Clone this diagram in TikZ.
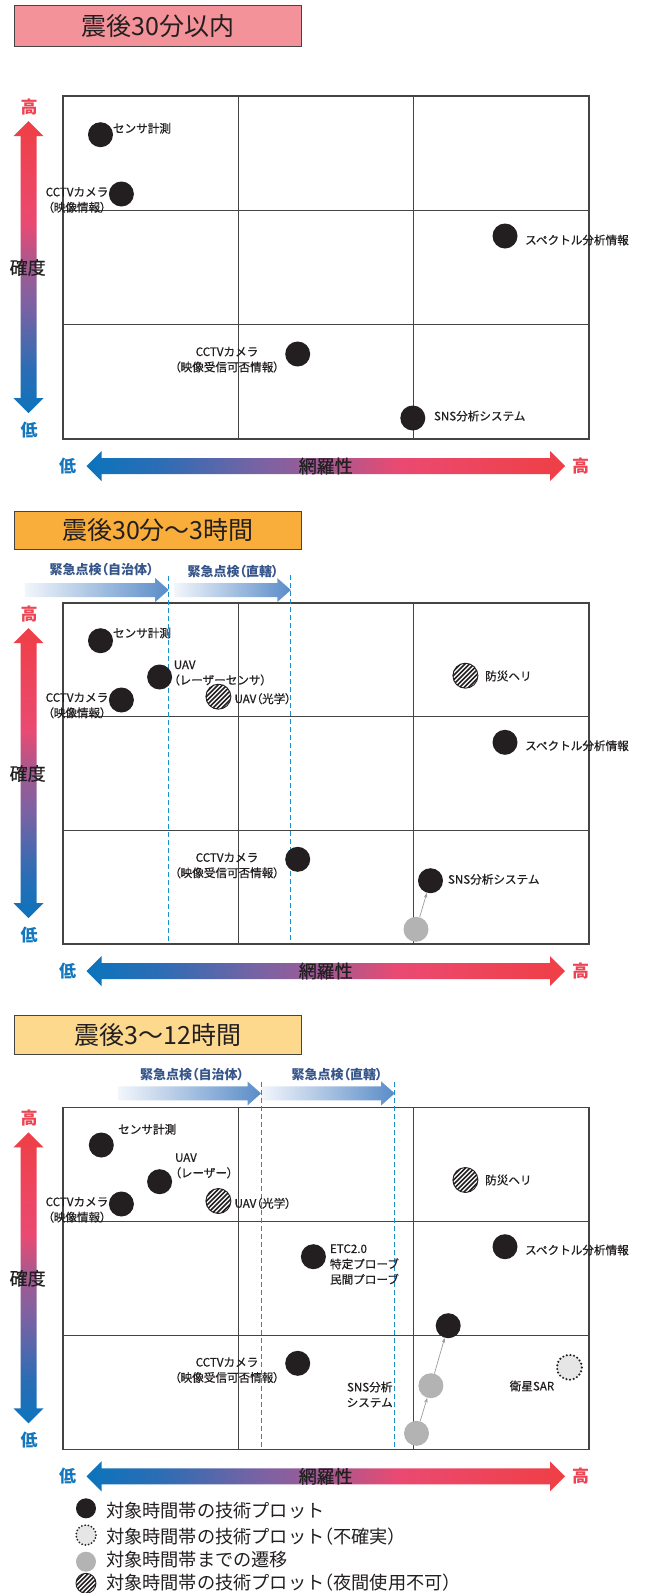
\documentclass[tikz,border=0pt]{standalone}
\usepackage{fontspec}
\setmainfont{Noto Sans CJK JP}
\newfontfamily\medfont{Noto Sans CJK JP}[FakeBold=0.6]
\usetikzlibrary{arrows.meta,shapes.geometric}
\newcommand\LP{{\addfontfeatures{RawFeature=+palt}（}}
\newcommand\RP{{\addfontfeatures{RawFeature=+palt}）}}
\definecolor{txt}{HTML}{231F20}
\definecolor{gridc}{HTML}{444444}
\definecolor{cb}{HTML}{0B74BC}
\definecolor{cbb}{HTML}{2B6DB5}
\definecolor{cpu}{HTML}{7C62A3}
\definecolor{cmv}{HTML}{A25A92}
\definecolor{cpk}{HTML}{EA4A72}
\definecolor{cr}{HTML}{EF3F45}
\definecolor{hiC}{HTML}{EC4452}
\definecolor{loC}{HTML}{1477BD}
\definecolor{tA}{HTML}{F4929A}
\definecolor{tB}{HTML}{F9AE3B}
\definecolor{tC}{HTML}{FDD98E}
\definecolor{blA}{HTML}{F2F6FB}
\definecolor{blB}{HTML}{5A8CC8}
\definecolor{navy}{HTML}{36558A}
\definecolor{dashc}{HTML}{1D8ECE}
\definecolor{grayd}{HTML}{B3B3B4}
\definecolor{uncert}{HTML}{E6E6E7}
\definecolor{connc}{HTML}{9C9C9C}
\pgfdeclarehorizontalshading{hgrad}{100bp}{color(0bp)=(cb); color(25bp)=(cb); color(32.5bp)=(cbb); color(43.5bp)=(cpu); color(50bp)=(cmv); color(57.5bp)=(cpk); color(75bp)=(cr); color(100bp)=(cr)}
\pgfdeclareverticalshading{vgrad}{100bp}{color(0bp)=(cb); color(25bp)=(cb); color(32.5bp)=(cbb); color(43.5bp)=(cpu); color(50bp)=(cmv); color(57.5bp)=(cpk); color(75bp)=(cr); color(100bp)=(cr)}
\newcommand\panelframe[2]{%
  \pgfmathsetmacro\PTop{#1}\pgfmathsetmacro\PBot{#2}%
  \pgfmathsetmacro\PHa{#1+(#2-#1)/3}\pgfmathsetmacro\PHb{#1+2*(#2-#1)/3}%
  \pgfmathsetmacro\AT{#1+25}\pgfmathsetmacro\AB{#2-26}%
  \pgfmathsetmacro\AM{(#1+#2)/2}\pgfmathsetmacro\HY{#2+27}%
  \draw[gridline] (63,\PTop) rectangle (589,\PBot);
  \draw[gridline] (238.6,\PTop) -- (238.6,\PBot) (413.2,\PTop) -- (413.2,\PBot)
    (63,\PHa) -- (589,\PHa) (63,\PHb) -- (589,\PHb);
  \path[shading=vgrad] (28.5,\AT) -- (43.5,\AT+15) -- (36.5,\AT+15) -- (36.5,\AB-15)
    -- (43.5,\AB-15) -- (28.5,\AB) -- (13.5,\AB-15) -- (20.5,\AB-15) -- (20.5,\AT+15)
    -- (13.5,\AT+15) -- cycle;
  \path[shading=hgrad] (86.5,\HY) -- (101.5,\HY-15) -- (101.5,\HY-8) -- (550,\HY-8)
    -- (550,\HY-15) -- (565,\HY) -- (550,\HY+15) -- (550,\HY+8) -- (101.5,\HY+8)
    -- (101.5,\HY+15) -- cycle;
  \node[axlbl,text=hiC] at (29,#1+11) {高};
  \node[axlbl,text=loC] at (29,#2-9) {低};
  \node[axname] at (27.7,\AM) {確度};
  \node[axlbl,text=loC] at (67.5,\HY) {低};
  \node[axlbl,text=hiC] at (580.5,\HY) {高};
  \node[axname] at (325.7,\HY) {網羅性};
}
\newcommand\blockarrow[3]{%
  \path[left color=blA, right color=blB] (#1,#3-7) -- (#2-13.5,#3-7) -- (#2-13.5,#3-12)
    -- (#2,#3) -- (#2-13.5,#3+12) -- (#2-13.5,#3+7) -- (#1,#3+7) -- cycle;
}
\begin{document}
\begin{tikzpicture}[x=1pt,y=-1pt,
  gridline/.style={draw=gridc,line width=1.1pt},
  axlbl/.style={font=\fontsize{17}{17}\selectfont\bfseries,inner sep=0pt},
  axname/.style={font=\fontsize{18}{18}\selectfont\medfont,text=txt,inner sep=0pt},
  titlebox/.style={draw=gridc,line width=0.9pt,minimum width=286.8pt,
    font=\fontsize{25}{25}\selectfont,text=txt,inner sep=0pt},
  lbl/.style={font=\fontsize{11.6}{15.4}\selectfont\medfont,text=txt,inner sep=0pt},
  klbl/.style={font=\fontsize{13}{13}\selectfont\bfseries,text=navy,inner sep=0pt},
  lgd/.style={font=\fontsize{18.2}{18.2}\selectfont,text=txt,inner sep=0pt,anchor=west},
  dashln/.style={draw=dashc,line width=1.3pt,dash pattern=on 5pt off 3pt},
  bdot/.style={circle,inner sep=0pt,minimum size=25pt,fill=txt},
  gdot/.style={circle,inner sep=0pt,minimum size=25pt,fill=grayd},
  udot/.style={circle,inner sep=0pt,minimum size=25pt,fill=uncert,draw=txt,
    line width=2.3pt,dash pattern=on 0pt off 3.7pt,line cap=round},
  hdot/.style={circle,inner sep=0pt,minimum size=25pt,fill=white,draw=txt,line width=0.9pt,
    path picture={\begin{scope}[shift={(path picture bounding box.center)}]
      \foreach \i in {-30,-25.5,...,30}{\draw[txt,line width=1.6pt] (\i-20,20) -- (\i+20,-20);}
      \end{scope}}},
  small/.style={minimum size=20pt},
  conn/.style={draw=connc,line width=0.7pt,-{Stealth[length=5pt,width=3.5pt]}}]
\clip (0,0) rectangle (646,1593);
\fill[white] (0,0) rectangle (646,1593);

% ---------- Panel 1
\node[titlebox,fill=tA,minimum height=41pt] (ta) at (158,26.2) {震後30分以内};
\panelframe{96}{439}
\node[bdot] (a1) at (100.5,134.7) {};
\node[lbl,anchor=west] (a1l) at (112.8,128.3) {センサ計測};
\node[bdot] (a2) at (121.4,194) {};
\node[lbl,align=center] (a2l) at (77,200) {CCTVカメラ\\\LP 映像情報\RP};
\node[bdot] (a3) at (505,236) {};
\node[lbl,anchor=west] (a3l) at (525,240) {スペクトル分析情報};
\node[bdot] (a4) at (297.7,354) {};
\node[lbl,align=center] (a4l) at (227,359.7) {CCTVカメラ\\\LP 映像受信可否情報\RP};
\node[bdot] (a5) at (412.8,418) {};
\node[lbl,anchor=west] (a5l) at (433.8,416) {SNS分析システム};

% ---------- Panel 2
\node[titlebox,fill=tB,minimum height=37.6pt] (tb) at (158,530.5) {震後30分〜3時間};
\blockarrow{24.8}{168.7}{590}
\blockarrow{174.4}{290.8}{590}
\node[klbl] (bk1) at (101.6,570) {緊急点検\LP 自治体\RP};
\node[klbl] (bk2) at (233,571.7) {緊急点検\LP 直轄\RP};
\panelframe{603}{944}
\draw[dashln] (168.7,576) -- (168.7,943);
\draw[dashln] (290.8,575) -- (290.8,943);
\node[bdot] (b1) at (100.5,640.7) {};
\node[lbl,anchor=west] (b1l) at (112.8,633) {センサ計測};
\node[bdot] (b2) at (159.6,677) {};
\node[lbl,anchor=west,align=left] (b2l) at (173.6,673) {UAV\\\LP レーザーセンサ\RP};
\node[bdot] (b3) at (121.4,700) {};
\node[lbl,align=center] (b3l) at (77,705.5) {CCTVカメラ\\\LP 映像情報\RP};
\node[hdot] (b4) at (218.4,696.7) {};
\node[lbl,anchor=west] (b4l) at (234.4,698.7) {UAV\LP 光学\RP};
\node[hdot] (b5) at (465.4,675.7) {};
\node[lbl,anchor=west] (b5l) at (485,676) {防災ヘリ};
\node[bdot] (b6) at (505,742.3) {};
\node[lbl,anchor=west] (b6l) at (525,745.7) {スペクトル分析情報};
\node[bdot] (b7) at (297.7,859.3) {};
\node[lbl,align=center] (b7l) at (227,865.5) {CCTVカメラ\\\LP 映像受信可否情報\RP};
\node[bdot] (b8) at (430.5,880.7) {};
\node[lbl,anchor=west] (b8l) at (447.8,879.3) {SNS分析システム};
\node[gdot] (b9) at (416,929.3) {};
\draw[conn] (b9) -- (b8);

% ---------- Panel 3
\node[titlebox,fill=tC,minimum height=38.6pt] (tc) at (158,1035) {震後3〜12時間};
\blockarrow{118}{261}{1093.4}
\blockarrow{261}{394.7}{1093.4}
\node[klbl] (ck1) at (192,1075) {緊急点検\LP 自治体\RP};
\node[klbl] (ck2) at (337,1075) {緊急点検\LP 直轄\RP};
\panelframe{1107.3}{1449.3}
\draw[dashln] (261.2,1082) -- (261.2,1448);
\draw[dashln] (394.3,1082) -- (394.3,1448);
\node[bdot] (c1) at (101.3,1145) {};
\node[lbl,anchor=west] (c1l) at (118,1129.3) {センサ計測};
\node[bdot] (c2) at (159.6,1181.7) {};
\node[lbl,anchor=west,align=left] (c2l) at (174.9,1165.8) {UAV\\\LP レーザー\RP};
\node[bdot] (c3) at (121.4,1204) {};
\node[lbl,align=center] (c3l) at (77,1209.8) {CCTVカメラ\\\LP 映像情報\RP};
\node[hdot] (c4) at (218.4,1201) {};
\node[lbl,anchor=west] (c4l) at (234.4,1203.3) {UAV\LP 光学\RP};
\node[hdot] (c5) at (465.4,1180) {};
\node[lbl,anchor=west] (c5l) at (485,1180) {防災ヘリ};
\node[bdot] (c6) at (313.4,1256.7) {};
\node[lbl,anchor=west,align=left] (c6l) at (329.8,1264.5) {ETC2.0\\特定プローブ\\民間プローブ};
\node[bdot] (c7) at (505,1246.7) {};
\node[lbl,anchor=west] (c7l) at (525,1250) {スペクトル分析情報};
\node[bdot] (c8) at (448.2,1325.7) {};
\node[bdot] (c9) at (297.7,1363.3) {};
\node[lbl,align=center] (c9l) at (227,1370.2) {CCTVカメラ\\\LP 映像受信可否情報\RP};
\node[gdot] (c10) at (430.9,1385.7) {};
\node[gdot] (c11) at (416.5,1433.3) {};
\node[lbl,align=center] (c11l) at (369.7,1394.5) {SNS分析\\システム};
\node[udot] (c12) at (569.4,1367.3) {};
\node[lbl] (c12l) at (532,1386) {衛星SAR};
\draw[conn] (c11) -- (c10);
\draw[conn] (c10) -- (c8);

% ---------- Legend
\node[bdot,small] (d1) at (86,1508.3) {};
\node[lgd] (d1l) at (105.8,1511) {対象時間帯の技術プロット};
\node[udot,small,line width=2pt,dash pattern=on 0pt off 3.3pt] (d2) at (86,1535) {};
\node[lgd] (d2l) at (105.8,1536.5) {対象時間帯の技術プロット\LP 不確実\RP};
\node[gdot,small] (d3) at (86,1561.7) {};
\node[lgd] (d3l) at (105.8,1559.5) {対象時間帯までの遷移};
\node[hdot,small] (d4) at (86,1583.3) {};
\node[lgd] (d4l) at (105.8,1583) {対象時間帯の技術プロット\LP 夜間使用不可\RP};
\end{tikzpicture}
\end{document}
